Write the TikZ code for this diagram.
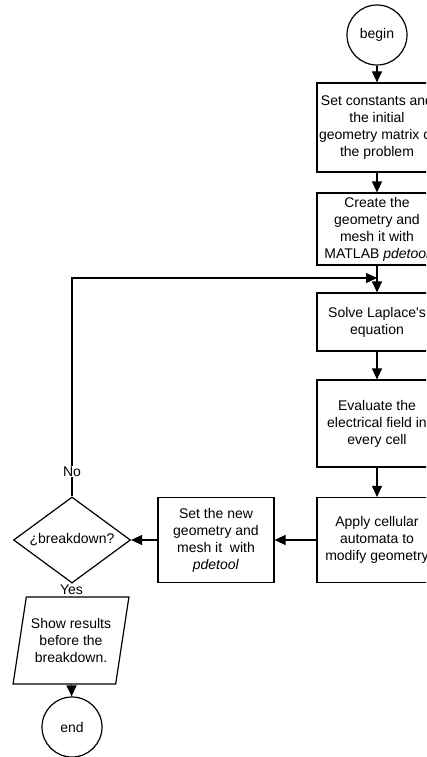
\documentclass[tikz,border=0pt]{standalone}
\usepackage{fontspec}
\setmainfont{Liberation Sans}
\usetikzlibrary{shapes.geometric,arrows.meta}
\begin{document}
\begin{tikzpicture}[x=1pt,y=-1pt, line width=1.2pt, font=\fontsize{14}{17}\selectfont,
 box/.style={draw, rectangle, align=center, minimum width=120pt, inner sep=0pt},
 arr/.style={-{Triangle[length=11pt,width=10pt]}},
 term/.style={draw, circle, minimum size=60pt, inner sep=0pt},
 lab/.style={fill=white, inner sep=1pt}]
\useasboundingbox (0,0) rectangle (426,757);
\clip (0,0) rectangle (426,757);
\node[term] (begin) at (377,35) {begin};
\node[box, minimum height=89pt] (b1) at (377,127.5) {Set constants and\\the initial\\geometry matrix of\\the problem};
\node[box, minimum height=72pt] (b2) at (377,229) {Create the\\geometry and\\mesh it with\\MATLAB \textit{pdetool}};
\node[box, minimum height=58pt] (b3) at (377,322) {Solve Laplace\textquotesingle s\\equation};
\node[box, minimum height=87pt] (b4) at (377,423.5) {Evaluate the\\electrical field in\\every cell};
\node[box, minimum height=85pt] (b5) at (377,540) {Apply cellular\\automata to\\modify geometry};
\node[box, minimum width=116pt, minimum height=85pt] (b6) at (216,540) {Set the new\\geometry and\\mesh it\ \ with\\\textit{pdetool}};
\node[diamond, draw, shape aspect=1.36, minimum width=117pt, minimum height=86pt, inner sep=0pt] (dec) at (72,540) {¿breakdown?};
\node[trapezium, draw, trapezium left angle=75, trapezium right angle=105, trapezium stretches=true, minimum width=116pt, minimum height=87pt, align=center, inner sep=0pt] (show) at (71,640.5) {Show results\\before the\\breakdown.};
\node[term] (end) at (72,727) {end};
\coordinate (loop) at (377,278);
\draw[arr] (begin) -- (b1);
\draw[arr] (b1) -- (b2);
\draw[arr] (b2) -- (b3);
\draw[arr] (b3) -- (b4);
\draw[arr] (b4) -- (b5);
\draw[arr] (b5) -- (b6);
\draw[arr] (b6) -- (dec);
\draw[arr] (dec.north) |- node[lab, pos=0.057]{No} (loop);
\draw (dec.south) -- node[lab]{Yes} (show.north);
\draw[arr] (show) -- (end);
\end{tikzpicture}
\end{document}
